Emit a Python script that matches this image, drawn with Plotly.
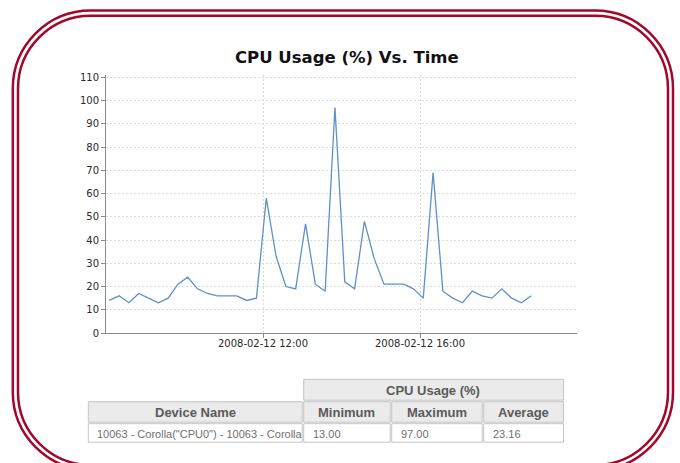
import plotly.graph_objects as go

# ---------------- data ----------------
date = "2008-02-12"
times = ["08:05", "08:20", "08:35", "08:50", "09:05", "09:20", "09:35", "09:50",
         "10:05", "10:20", "10:35", "10:50", "11:05", "11:20", "11:35", "11:50",
         "12:05", "12:20", "12:35", "12:50", "13:05", "13:20", "13:35", "13:50",
         "14:05", "14:20", "14:35", "14:50", "15:05", "15:20", "15:35", "15:50",
         "16:05", "16:20", "16:35", "16:50", "17:05", "17:20", "17:35", "17:50",
         "18:05", "18:20", "18:35", "18:50"]
cpu_usage = [14, 16, 13, 17, 15, 13, 15, 21, 24, 19, 17, 16, 16, 16, 14, 15,
             58, 33, 20, 19, 47, 21, 18, 97, 22, 19, 48, 32, 21, 21, 21, 19,
             15, 69, 18, 15, 13, 18, 16, 15, 19, 15, 13, 16]
x_range = ["08:00", "20:00"]
x_tick_times = ["12:00", "16:00"]
x_tick_labels = ["2008-02-12 12:00", "2008-02-12 16:00"]
y_ticks = [0, 10, 20, 30, 40, 50, 60, 70, 80, 90, 100, 110]

title = "CPU Usage (%) Vs. Time"
table_group = "CPU Usage (%)"
table_headers = ["Device Name", "Minimum", "Maximum", "Average"]
table_row = ['10063 - Corolla("CPU0") - 10063 - Corolla', "13.00", "97.00", "23.16"]

# ---------------- layout helpers ----------------
W, H = 680, 463


def px(x):
    return x / W


def py(y):
    return 1 - y / H


def P(x, y):
    return f"{px(x):.5f},{py(y):.5f}"


def rounded_path(x0, y0, x1, y1, r):
    k = 0.5523 * r
    return (f"M {P(x0 + r, y0)} L {P(x1 - r, y0)} "
            f"C {P(x1 - r + k, y0)} {P(x1, y0 + r - k)} {P(x1, y0 + r)} "
            f"L {P(x1, y1 - r)} "
            f"C {P(x1, y1 - r + k)} {P(x1 - r + k, y1)} {P(x1 - r, y1)} "
            f"L {P(x0 + r, y1)} "
            f"C {P(x0 + r - k, y1)} {P(x0, y1 - r + k)} {P(x0, y1 - r)} "
            f"L {P(x0, y0 + r)} "
            f"C {P(x0, y0 + r - k)} {P(x0 + r - k, y0)} {P(x0 + r, y0)} Z")


border_color = "#a3072b"
grid_color = "#dadada"
axis_color = "#8a8a8a"
line_color = "#5c91c9"
cell_line = "#c6c6c6"
head_fill = "#ebebeb"
head_font = dict(family="Liberation Sans, Arial", size=13, color="#5a5a5a")
cell_font = dict(family="Liberation Sans, Arial", size=11, color="#707070")

fig = go.Figure()

fig.add_trace(go.Scatter(
    x=[f"{date} {t}" for t in times],
    y=cpu_usage,
    mode="lines",
    line=dict(color=line_color, width=1.3),
    hoverinfo="skip",
    showlegend=False,
))

# ---------------- summary table (cells drawn as shapes + text) ----------------
col_edges = [87.3, 302.7, 390.7, 482.7, 564.0]
row_edges = [378.3, 400.7, 422.7, 442.7]

shapes = []
annotations = []


def cell(x0, x1, y0, y1, fill):
    shapes.append(dict(type="rect", xref="paper", yref="paper", layer="below",
                       x0=px(x0 + 1), x1=px(x1 - 0.5), y0=py(y0 + 1), y1=py(y1 - 0.5),
                       fillcolor=fill, line=dict(color=cell_line, width=1)))


# group header spanning the statistic columns
cell(col_edges[1], col_edges[4], row_edges[0], row_edges[1], head_fill)
annotations.append(dict(text=f"<b>{table_group}</b>", xref="paper", yref="paper",
                        x=px((col_edges[1] + col_edges[4]) / 2),
                        y=py((row_edges[0] + row_edges[1]) / 2 + 0.5),
                        xanchor="center", yanchor="middle", showarrow=False,
                        font=head_font))
for i, h in enumerate(table_headers):
    cell(col_edges[i], col_edges[i + 1], row_edges[1], row_edges[2], head_fill)
    annotations.append(dict(text=f"<b>{h}</b>", xref="paper", yref="paper",
                            x=px((col_edges[i] + col_edges[i + 1]) / 2),
                            y=py((row_edges[1] + row_edges[2]) / 2 + 0.5),
                            xanchor="center", yanchor="middle", showarrow=False,
                            font=head_font))
for i, v in enumerate(table_row):
    cell(col_edges[i], col_edges[i + 1], row_edges[2], row_edges[3], "white")
    annotations.append(dict(text=v, xref="paper", yref="paper",
                            x=px(col_edges[i] + 8),
                            y=py((row_edges[2] + row_edges[3]) / 2 + 1.5),
                            xanchor="left", yanchor="middle", showarrow=False,
                            font=cell_font))

annotations.append(dict(
    text=f"<b>{title}</b>", xref="paper", yref="paper",
    x=px(347), y=py(57.5), xanchor="center", yanchor="middle",
    showarrow=False,
    font=dict(family="DejaVu Sans", size=16.5, color="#111111"),
))

shapes += [
    dict(type="path", xref="paper", yref="paper",
         path=rounded_path(12.8, 10.5, 673, 470, 78),
         line=dict(color=border_color, width=2.5)),
    dict(type="path", xref="paper", yref="paper",
         path=rounded_path(18, 15.7, 668, 465, 73),
         line=dict(color=border_color, width=2.5)),
]

fig.update_layout(
    width=W, height=H,
    margin=dict(l=0, r=0, t=0, b=0),
    paper_bgcolor="white", plot_bgcolor="white",
    showlegend=False,
    xaxis=dict(
        domain=[px(106), px(577)],
        type="date",
        range=[f"{date} {x_range[0]}", f"{date} {x_range[1]}"],
        tickmode="array",
        tickvals=[f"{date} {t}" for t in x_tick_times],
        ticktext=x_tick_labels,
        showgrid=True, gridcolor=grid_color, griddash="2px,2px", gridwidth=1,
        showline=True, linecolor=axis_color, linewidth=1,
        ticks="outside", ticklen=4, tickcolor=axis_color,
        ticklabelstandoff=-3,
        tickfont=dict(family="DejaVu Sans", size=10, color="#2a2a2a"),
        zeroline=False, automargin=False, fixedrange=True,
    ),
    yaxis=dict(
        domain=[py(333), py(75)],
        range=[0, 111],
        tickmode="array",
        tickvals=y_ticks,
        showgrid=True, gridcolor=grid_color, griddash="2px,2px", gridwidth=1,
        showline=True, linecolor=axis_color, linewidth=1,
        ticks="outside", ticklen=4, tickcolor=axis_color,
        tickfont=dict(family="DejaVu Sans", size=10, color="#2a2a2a"),
        zeroline=False, automargin=False, fixedrange=True,
    ),
    annotations=annotations,
    shapes=shapes,
)

fig.write_html(
    "out.html",
    config={"displayModeBar": False},
    post_script="document.body.style.margin='0px';document.body.style.overflow='hidden';",
)
